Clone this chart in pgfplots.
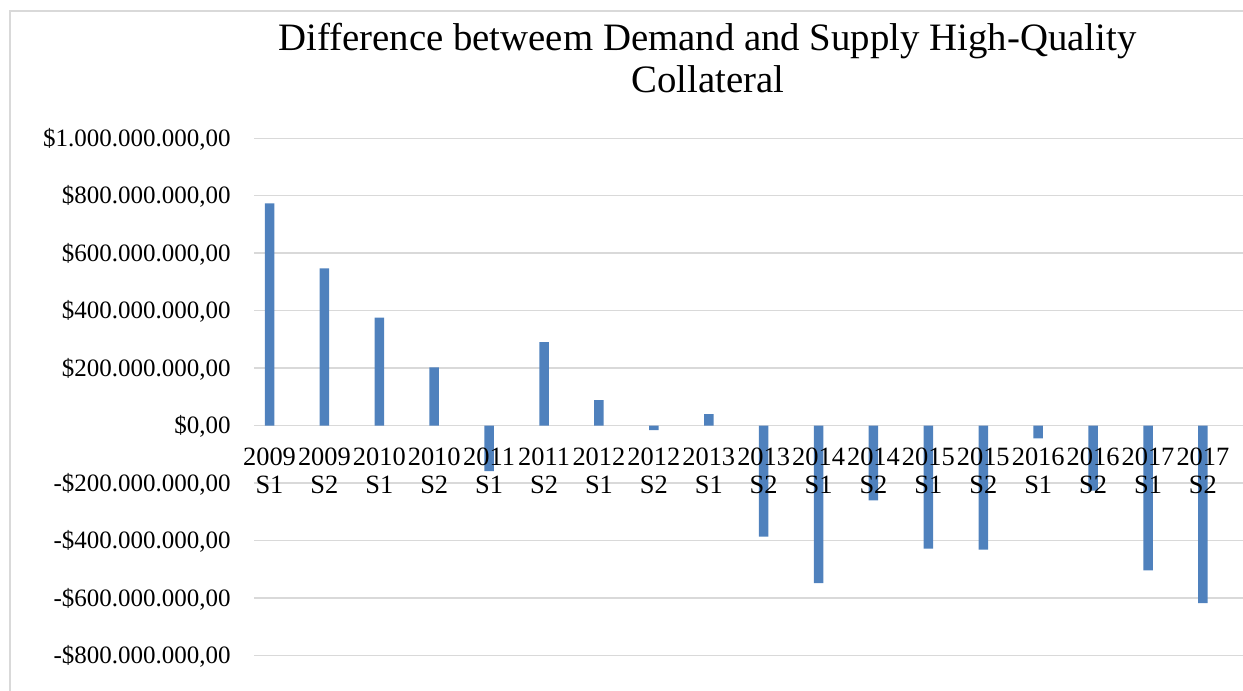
\documentclass[border=0pt]{standalone}
\usepackage{fontspec}
\setmainfont{Liberation Serif}
\usepackage{pgfplots}
\pgfplotsset{compat=1.18}
\definecolor{barblue}{HTML}{4F81BD}
\definecolor{gridgray}{HTML}{D9D9D9}
\tikzset{xlab/.style={anchor=north, align=center, inner sep=0pt, yshift=-11.1pt, font=\fontsize{13.2}{13.85}\selectfont}}
\begin{document}
\begin{tikzpicture}
\useasboundingbox (0,0) rectangle (621.5pt,345.5pt);
\draw[gridgray, line width=0.75pt] (5pt,0) -- (5pt,340pt) -- (621.5pt,340pt);
\node[anchor=base, inner sep=0pt, font=\fontsize{19.4}{21}\selectfont] at (353.75pt,320.15pt) {Difference betweem Demand and Supply High-Quality};
\node[anchor=base, inner sep=0pt, font=\fontsize{19.4}{21}\selectfont] at (354pt,299.25pt) {Collateral};
\begin{axis}[
  at={(127.15pt,17.85pt)}, anchor=south west,
  scale only axis, width=494.35pt, height=258.5pt,
  xmin=0.723, xmax=18.73, ymin=-800, ymax=1000,
  axis x line*=middle, axis y line*=left,
  x axis line style={draw=gridgray, line width=0.75pt},
  y axis line style={draw=none},
  ymajorgrids, grid style={draw=gridgray, line width=0.75pt},
  major tick length=0pt, tick style={draw=none},
  xtick={1,...,18}, xticklabels={},
  ytick={-800,-600,-400,-200,0,200,400,600,800,1000},
  yticklabels={-\$800.000.000{,}00,-\$600.000.000{,}00,-\$400.000.000{,}00,-\$200.000.000{,}00,\$0{,}00,\$200.000.000{,}00,\$400.000.000{,}00,\$600.000.000{,}00,\$800.000.000{,}00,\$1.000.000.000{,}00},
  yticklabel style={font=\fontsize{12.5}{14}\selectfont, anchor=base east, inner sep=0pt, xshift=-11.65pt, yshift=-4.1pt},
  ybar, bar width=4.75pt, clip=false,
]
\addplot[fill=barblue, draw=none] coordinates {
(1,773.7) (2,547.4) (3,375.3) (4,202.6) (5,-158.4) (6,290.7) (7,88.8) (8,-15.7) (9,40)
(10,-387.2) (11,-548.4) (12,-260.4) (13,-429) (14,-432.4) (15,-44.6) (16,-227) (17,-504.2) (18,-618)
};
\node[xlab] at (axis cs:1,0) {2009\\S1};
\node[xlab] at (axis cs:2,0) {2009\\S2};
\node[xlab] at (axis cs:3,0) {2010\\S1};
\node[xlab] at (axis cs:4,0) {2010\\S2};
\node[xlab] at (axis cs:5,0) {2011\\S1};
\node[xlab] at (axis cs:6,0) {2011\\S2};
\node[xlab] at (axis cs:7,0) {2012\\S1};
\node[xlab] at (axis cs:8,0) {2012\\S2};
\node[xlab] at (axis cs:9,0) {2013\\S1};
\node[xlab] at (axis cs:10,0) {2013\\S2};
\node[xlab] at (axis cs:11,0) {2014\\S1};
\node[xlab] at (axis cs:12,0) {2014\\S2};
\node[xlab] at (axis cs:13,0) {2015\\S1};
\node[xlab] at (axis cs:14,0) {2015\\S2};
\node[xlab] at (axis cs:15,0) {2016\\S1};
\node[xlab] at (axis cs:16,0) {2016\\S2};
\node[xlab] at (axis cs:17,0) {2017\\S1};
\node[xlab] at (axis cs:18,0) {2017\\S2};
\end{axis}
\end{tikzpicture}
\end{document}
